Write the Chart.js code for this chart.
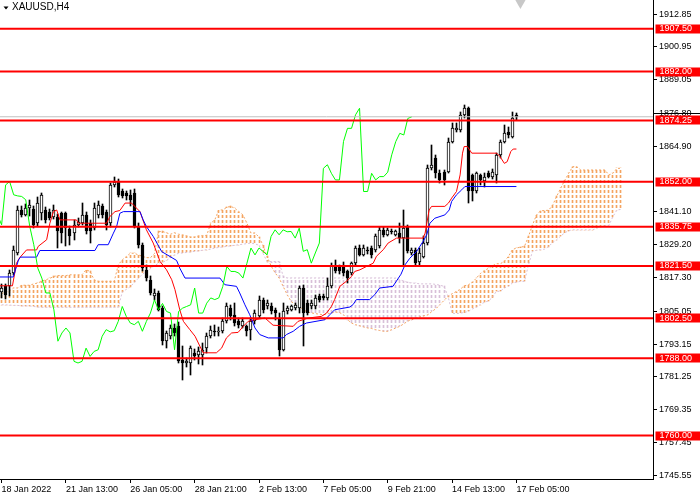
<!DOCTYPE html>
<html>
<head>
<meta charset="utf-8">
<title>XAUUSD,H4</title>
<script src="https://cdn.jsdelivr.net/npm/chart.js@4.4.1/dist/chart.umd.min.js"></script>
<style>
    html, body { margin: 0; padding: 0; background: #fff; }
    #wrap { width: 700px; height: 500px; }
</style>
</head>
<body>
<div id="wrap"><canvas id="chart" width="700" height="500"></canvas></div>
<script>
// H4 bars, bar 0 is the first one on screen
var opens = [
    1812.0, 1814.1, 1814.1, 1819.0, 1826.2, 1841.8, 1840.0, 1842.4, 1842.0, 1837.0,
    1840.6, 1841.8, 1841.2, 1839.4, 1839.4, 1840.6, 1840.6, 1834.8, 1833.4, 1836.4,
    1837.0, 1840.0, 1837.0, 1835.2, 1840.0, 1843.1, 1841.2, 1837.0, 1850.9, 1852.1,
    1848.5, 1847.9, 1847.3, 1847.9, 1835.8, 1829.2, 1820.1, 1816.5, 1810.7, 1811.7,
    1806.2, 1794.2, 1796.0, 1799.0, 1799.6, 1787.5, 1786.3, 1786.3, 1790.0, 1789.3,
    1789.3, 1791.7, 1796.0, 1798.0, 1797.6, 1797.8, 1801.4, 1806.2, 1803.8, 1801.4,
    1799.6, 1799.6, 1798.4, 1801.4, 1803.2, 1809.2, 1806.9, 1806.9, 1805.6, 1802.6,
    1791.1, 1805.0, 1805.6, 1806.2, 1806.2, 1813.5, 1808.0, 1806.8, 1806.8, 1810.5,
    1810.5, 1809.9, 1814.1, 1821.3, 1821.3, 1821.3, 1819.5, 1818.9, 1822.5, 1828.0,
    1825.5, 1827.4, 1828.0, 1827.4, 1828.6, 1834.6, 1832.8, 1834.2, 1832.8, 1833.4,
    1831.6, 1835.8, 1826.2, 1827.4, 1823.1, 1824.9, 1829.8, 1856.9, 1860.6, 1855.1,
    1855.7, 1855.7, 1866.6, 1870.8, 1870.8, 1876.3, 1878.7, 1854.5, 1848.5, 1854.5,
    1852.4, 1855.1, 1853.9, 1854.5, 1861.8, 1866.6, 1869.9, 1868.4, 1876.3
];
var highs = [
    1815.0, 1815.0, 1820.1, 1828.6, 1843.1, 1843.1, 1844.0, 1845.5, 1843.1, 1846.5,
    1847.9, 1843.0, 1842.0, 1843.5, 1840.5, 1841.0, 1841.0, 1836.0, 1838.2, 1839.0,
    1844.3, 1841.0, 1838.0, 1844.3, 1845.0, 1844.0, 1841.8, 1851.5, 1853.9, 1853.0,
    1849.5, 1848.5, 1849.1, 1849.5, 1837.0, 1830.0, 1822.0, 1818.0, 1813.0, 1812.5,
    1807.0, 1797.8, 1800.0, 1800.5, 1801.0, 1792.3, 1788.0, 1792.5, 1791.5, 1792.0,
    1793.6, 1797.0, 1799.6, 1800.0, 1799.5, 1802.5, 1808.0, 1807.5, 1808.0, 1802.5,
    1802.5, 1800.2, 1802.6, 1805.5, 1810.5, 1810.0, 1809.0, 1808.0, 1806.2, 1804.4,
    1808.0, 1807.0, 1807.5, 1808.0, 1814.1, 1814.5, 1809.2, 1809.0, 1811.0, 1811.5,
    1811.5, 1817.1, 1822.5, 1823.7, 1822.0, 1823.1, 1820.0, 1823.1, 1828.6, 1829.0,
    1829.0, 1828.5, 1828.6, 1833.0, 1835.8, 1835.5, 1835.2, 1835.0, 1834.5, 1837.0,
    1841.8, 1836.5, 1828.0, 1828.0, 1828.0, 1832.2, 1858.2, 1865.4, 1861.8, 1856.3,
    1856.3, 1867.8, 1873.2, 1873.2, 1877.5, 1879.9, 1879.3, 1855.0, 1855.7, 1855.0,
    1855.1, 1856.0, 1856.5, 1862.4, 1867.2, 1872.6, 1872.0, 1877.5, 1876.9
];
var lows = [
    1810.0, 1809.5, 1810.5, 1818.3, 1825.5, 1839.4, 1839.6, 1839.5, 1835.2, 1836.0,
    1838.2, 1837.0, 1838.0, 1838.5, 1828.0, 1829.8, 1828.6, 1829.2, 1831.0, 1835.5,
    1836.4, 1833.0, 1829.8, 1834.5, 1839.0, 1839.0, 1834.6, 1835.8, 1850.3, 1846.5,
    1846.0, 1845.5, 1843.1, 1835.2, 1828.0, 1819.5, 1816.0, 1811.0, 1809.0, 1805.0,
    1793.0, 1791.8, 1795.0, 1796.0, 1786.3, 1780.3, 1785.0, 1782.1, 1787.5, 1786.0,
    1785.7, 1790.0, 1795.4, 1796.0, 1796.0, 1797.0, 1800.8, 1802.0, 1799.6, 1799.0,
    1799.0, 1796.0, 1794.8, 1800.5, 1802.5, 1804.5, 1806.0, 1804.0, 1802.0, 1788.7,
    1790.5, 1804.0, 1805.0, 1805.6, 1804.4, 1792.4, 1803.8, 1806.0, 1806.0, 1808.5,
    1809.0, 1809.3, 1813.5, 1819.0, 1818.5, 1817.7, 1815.3, 1818.3, 1821.9, 1825.0,
    1825.0, 1826.0, 1824.5, 1826.5, 1828.0, 1832.0, 1832.2, 1833.0, 1832.4, 1829.8,
    1821.9, 1826.2, 1825.5, 1821.9, 1821.9, 1824.3, 1829.2, 1856.3, 1853.3, 1851.5,
    1850.9, 1855.1, 1866.0, 1870.2, 1870.2, 1875.0, 1844.3, 1844.9, 1847.9, 1850.9,
    1850.3, 1853.3, 1853.0, 1851.5, 1860.6, 1866.0, 1867.8, 1867.8, 1874.4
];
var closes = [
    1813.5, 1811.1, 1818.9, 1827.4, 1841.8, 1840.0, 1842.4, 1843.7, 1836.4, 1844.3,
    1847.3, 1838.2, 1838.8, 1841.8, 1834.0, 1833.4, 1835.2, 1832.2, 1836.4, 1837.6,
    1840.0, 1834.0, 1834.0, 1842.4, 1843.7, 1840.0, 1836.4, 1850.9, 1852.1, 1847.3,
    1846.9, 1846.7, 1845.5, 1835.8, 1829.2, 1820.7, 1817.1, 1811.7, 1811.7, 1805.6,
    1794.2, 1797.2, 1799.0, 1797.2, 1786.9, 1786.3, 1786.9, 1791.7, 1788.7, 1790.5,
    1791.1, 1796.0, 1798.4, 1797.6, 1798.0, 1801.4, 1806.8, 1803.2, 1800.8, 1800.2,
    1801.4, 1797.8, 1801.4, 1804.4, 1809.2, 1805.6, 1807.9, 1805.0, 1804.4, 1791.1,
    1805.0, 1806.2, 1806.8, 1807.4, 1813.5, 1804.4, 1804.4, 1808.0, 1809.9, 1809.3,
    1809.9, 1814.1, 1821.3, 1819.5, 1819.5, 1818.9, 1817.1, 1822.5, 1828.0, 1825.5,
    1828.0, 1826.8, 1825.5, 1832.2, 1834.6, 1832.8, 1834.6, 1833.9, 1834.0, 1831.6,
    1835.2, 1826.8, 1827.4, 1822.5, 1826.2, 1829.8, 1856.9, 1858.2, 1855.1, 1852.7,
    1852.7, 1866.6, 1871.4, 1871.4, 1876.3, 1878.7, 1848.5, 1848.5, 1855.1, 1852.7,
    1853.9, 1853.9, 1855.5, 1861.8, 1866.6, 1869.6, 1869.0, 1875.0, 1875.6
];

// Ichimoku lines: [bar, price]
var tenkan = [
    [-0.4, 1814.3], [2.7, 1814.3], [3.7, 1822.5], [4.5, 1824.5], [6.2, 1827.3], [8.7, 1827.3],
    [9.1, 1828.6], [11.2, 1831.0], [12.0, 1837.0], [12.9, 1841.2], [13.7, 1841.8], [14.5, 1838.2],
    [18.6, 1838.2], [19.1, 1837.0], [26.1, 1837.0], [26.9, 1839.4], [28.2, 1841.2], [29.4, 1841.6],
    [30.7, 1844.3], [32.3, 1844.3], [34.4, 1841.2], [36.0, 1834.6], [37.7, 1829.8], [39.4, 1823.1],
    [41.0, 1820.1], [42.3, 1816.5], [43.1, 1812.9], [44.3, 1805.6], [45.2, 1801.4], [46.8, 1798.4],
    [48.1, 1796.0], [49.3, 1792.4], [50.1, 1790.0], [53.4, 1790.0], [54.7, 1791.7], [55.9, 1795.4],
    [57.2, 1797.2], [58.8, 1797.4], [60.1, 1799.6], [61.3, 1801.4], [63.0, 1802.0], [65.5, 1802.6],
    [67.5, 1800.0], [72.5, 1799.6], [73.7, 1801.4], [76.2, 1802.6], [79.5, 1803.2], [80.8, 1804.4],
    [82.0, 1806.8], [82.8, 1809.3], [84.1, 1814.1], [85.7, 1815.9], [87.0, 1817.7], [87.8, 1819.5],
    [89.1, 1820.1], [90.7, 1821.3], [92.4, 1822.5], [93.2, 1825.0], [94.9, 1827.4], [96.1, 1829.8],
    [98.2, 1831.6], [104.8, 1831.6], [105.3, 1833.4], [106.3, 1841.8], [106.9, 1843.1], [110.2, 1843.1],
    [111.1, 1844.3], [111.9, 1846.1], [113.1, 1848.5], [114.0, 1854.5], [114.6, 1862.4], [115.0, 1864.8],
    [115.8, 1864.8], [116.9, 1862.4], [123.1, 1862.4], [123.9, 1861.2], [125.0, 1858.7], [125.7, 1859.3],
    [126.6, 1863.0], [127.2, 1863.9], [128.0, 1863.9]
];
var kijun = [
    [-0.4, 1817.5], [2.9, 1817.5], [4.2, 1823.7], [4.7, 1824.7], [8.7, 1824.7], [9.5, 1827.1],
    [23.2, 1827.1], [24.0, 1829.2], [26.5, 1829.2], [27.8, 1833.4], [28.6, 1835.8], [29.4, 1840.6],
    [30.3, 1841.2], [34.4, 1841.2], [35.2, 1838.2], [36.0, 1835.8], [37.7, 1832.2], [39.8, 1826.7],
    [43.5, 1823.5], [44.3, 1820.7], [45.6, 1817.1], [54.3, 1817.1], [55.5, 1814.7], [58.4, 1814.1],
    [59.2, 1811.7], [60.5, 1807.4], [61.7, 1803.8], [63.0, 1799.0], [64.2, 1796.6], [66.3, 1795.4],
    [70.0, 1795.4], [70.8, 1796.6], [72.5, 1797.8], [74.1, 1799.6], [75.8, 1800.8], [80.4, 1802.0],
    [81.6, 1803.8], [82.8, 1805.6], [86.6, 1806.6], [87.4, 1807.5], [88.2, 1809.3], [91.5, 1809.3],
    [92.8, 1811.1], [94.0, 1813.5], [97.3, 1814.1], [99.3, 1818.5], [100.3, 1821.9], [101.5, 1824.3],
    [103.2, 1826.8], [104.8, 1830.4], [105.7, 1832.8], [106.5, 1837.0], [107.7, 1838.8], [110.2, 1840.0],
    [111.3, 1841.8], [111.9, 1844.9], [113.1, 1847.3], [114.4, 1849.1], [115.2, 1850.3], [128.0, 1850.3]
];
// Senkou spans, one value per bar (runs 26 bars past the last candle)
var spanA = [
    1811.5, 1812.0, 1812.5, 1813.5, 1813.5, 1814.5, 1814.5, 1814.5, 1815.0, 1815.3,
    1816.0, 1816.5, 1817.0, 1817.7, 1818.0, 1818.0, 1818.0, 1818.3, 1818.3, 1818.3,
    1818.3, 1820.1, 1819.5, 1816.5, 1815.9, 1815.9, 1815.9, 1815.9, 1815.9, 1821.9,
    1823.7, 1824.9, 1826.1, 1826.1, 1825.5, 1825.0, 1824.5, 1824.5, 1826.0, 1834.0,
    1834.0, 1833.5, 1833.0, 1833.5, 1833.0, 1832.8, 1832.4, 1832.0, 1832.0, 1832.4,
    1832.5, 1832.6, 1837.0, 1838.2, 1841.8, 1841.8, 1842.8, 1843.1, 1842.4, 1841.2,
    1840.0, 1837.0, 1833.4, 1833.4, 1832.0, 1829.0, 1825.0, 1821.5, 1819.0, 1817.1,
    1814.1, 1811.1, 1808.6, 1807.5, 1806.8, 1805.6, 1804.8, 1804.5, 1804.2, 1804.0,
    1803.8, 1804.1, 1804.4, 1804.8, 1804.6, 1803.8, 1802.0, 1800.8, 1800.2, 1799.8,
    1799.4, 1799.0, 1798.8, 1798.4, 1798.1, 1797.8, 1797.8, 1798.4, 1799.0, 1799.6,
    1800.5, 1801.5, 1802.0, 1802.5, 1803.0, 1803.4, 1803.8, 1805.0, 1806.0, 1807.5,
    1809.0, 1810.5, 1811.4, 1812.2, 1813.0, 1814.3, 1814.6, 1815.5, 1817.0, 1818.7,
    1819.8, 1820.6, 1821.5, 1822.3, 1822.3, 1823.2, 1824.9, 1827.4, 1828.0, 1828.3,
    1828.6, 1832.2, 1836.4, 1840.0, 1841.5, 1841.6, 1841.7, 1843.5, 1846.7, 1849.7,
    1852.5, 1855.1, 1857.5, 1857.5, 1856.3, 1856.3, 1856.3, 1856.3, 1856.3, 1856.3,
    1856.3, 1854.5, 1855.1, 1856.9, 1856.9
];
var spanB = [
    1807.4, 1807.4, 1807.3, 1807.2, 1807.2, 1807.0, 1807.0, 1807.0, 1806.8, 1806.6,
    1806.5, 1806.5, 1806.5, 1806.5, 1806.5, 1806.5, 1806.5, 1806.5, 1806.5, 1806.5,
    1806.5, 1806.5, 1806.5, 1806.5, 1806.5, 1806.5, 1806.5, 1806.5, 1806.5, 1806.5,
    1812.0, 1813.0, 1814.0, 1815.5, 1817.0, 1818.5, 1819.5, 1820.5, 1821.5, 1822.5,
    1822.8, 1823.5, 1824.5, 1825.5, 1826.1, 1826.2, 1826.4, 1826.6, 1826.8, 1827.0,
    1827.2, 1827.4, 1827.6, 1828.0, 1828.2, 1828.4, 1828.6, 1828.8, 1829.0, 1829.2,
    1829.4, 1829.6, 1829.8, 1829.5, 1829.0, 1826.0, 1823.1, 1823.1, 1823.1, 1823.1,
    1817.7, 1817.1, 1817.1, 1817.1, 1817.1, 1817.1, 1817.1, 1817.1, 1817.1, 1817.1,
    1817.1, 1817.1, 1817.1, 1817.1, 1817.1, 1817.1, 1817.1, 1817.1, 1817.1, 1817.1,
    1817.1, 1817.1, 1817.1, 1817.1, 1817.1, 1817.1, 1817.1, 1817.1, 1817.0, 1816.5,
    1816.0, 1815.5, 1815.3, 1815.2, 1815.0, 1815.0, 1815.0, 1815.0, 1814.8, 1814.5,
    1814.1, 1810.5, 1804.4, 1804.2, 1804.4, 1804.6, 1805.0, 1805.9, 1806.5, 1807.5,
    1808.3, 1808.8, 1810.0, 1812.3, 1812.3, 1813.5, 1814.1, 1815.3, 1815.6, 1815.9,
    1815.9, 1821.9, 1826.8, 1827.2, 1827.4, 1827.6, 1828.5, 1830.0, 1831.0, 1832.3,
    1833.5, 1834.3, 1834.6, 1834.6, 1834.6, 1834.6, 1834.6, 1834.6, 1835.2, 1835.8,
    1836.0, 1836.2, 1839.4, 1841.8, 1842.0
];
var chikouShift = 26;

var levelLines = [1907.50, 1892.00, 1874.25, 1852.00, 1835.75, 1821.50, 1802.50, 1788.00, 1760.00];
var bidPrice = 1875.6;
var shiftMark = { bar: 129, price: 1916.9 };

var yTicks = [1912.85, 1900.95, 1889.05, 1876.80, 1864.90, 1841.10, 1829.20, 1817.30,
    1805.05, 1793.15, 1781.25, 1769.35, 1757.45, 1745.55];
var xTickBars = [0, 16, 32, 48, 64, 80, 96, 112, 128];
var xTickLabels = ['18 Jan 2022', '21 Jan 13:00', '26 Jan 05:00', '28 Jan 21:00', '2 Feb 13:00',
    '7 Feb 05:00', '9 Feb 21:00', '14 Feb 13:00', '17 Feb 05:00'];

function hatch(color) {
    var c = document.createElement('canvas');
    c.width = 1;
    c.height = 5;
    var g = c.getContext('2d');
    g.fillStyle = color;
    g.fillRect(0, 0, 1, 3);
    return g.createPattern(c, 'repeat');
}

function pairs(list) {
    return list.map(function (p) { return { x: p[0], y: p[1] }; });
}

var upKumo = hatch('#f4a460');
var downKumo = hatch('#d8bfd8');

var chikou = [];
for (var i = chikouShift - 1; i < closes.length; i++) {
    chikou.push({ x: i - chikouShift, y: closes[i] });
}

var datasets = [];

levelLines.forEach(function (v) {
    datasets.push({
        type: 'line', data: [{ x: -0.4, y: v }, { x: 161.96, y: v }],
        borderColor: '#ff0000', borderWidth: 2, pointRadius: 0, order: 1
    });
});

datasets.push({
    type: 'line', data: [{ x: -0.4, y: bidPrice }, { x: 161.96, y: bidPrice }],
    borderColor: '#c0c0c0', borderWidth: 1, pointRadius: 0, order: 2
});
datasets.push({
    type: 'line', data: chikou, borderColor: '#00ff00', borderWidth: 1,
    pointRadius: 0, tension: 0, order: 3
});
datasets.push({
    type: 'line', data: pairs(kijun), borderColor: '#0000ff', borderWidth: 1,
    pointRadius: 0, tension: 0, order: 4
});
datasets.push({
    type: 'line', data: pairs(tenkan), borderColor: '#ff0000', borderWidth: 1,
    pointRadius: 0, tension: 0, order: 5
});
// candle bodies and wicks
datasets.push({
    type: 'bar', grouped: false, barThickness: 3, order: 6,
    data: opens.map(function (o, i) { return { x: i, y: [o, closes[i]] }; }),
    backgroundColor: function (ctx) {
        var i = ctx.dataIndex;
        return closes[i] >= opens[i] ? '#ffffff' : '#000000';
    },
    borderColor: '#000000', borderWidth: 1, borderSkipped: false
});
datasets.push({
    type: 'bar', grouped: false, barThickness: 1, order: 7,
    data: highs.map(function (h, i) { return { x: i, y: [lows[i], h] }; }),
    backgroundColor: '#000000', borderWidth: 0
});
// cloud
datasets.push({
    type: 'line', data: spanB.map(function (v, i) { return { x: i, y: v }; }),
    borderColor: '#d8bfd8', borderWidth: 1, borderDash: [2, 2], pointRadius: 0, order: 8
});
datasets.push({
    type: 'line', data: spanA.map(function (v, i) { return { x: i, y: v }; }),
    borderColor: '#f4a460', borderWidth: 1, borderDash: [2, 2], pointRadius: 0, order: 9
});
datasets.push({
    type: 'bar', grouped: false, barThickness: 1, order: 10,
    data: spanA.map(function (a, i) { return { x: i, y: [a, spanB[i]] }; }),
    backgroundColor: function (ctx) {
        var i = ctx.dataIndex;
        return spanA[i] >= spanB[i] ? upKumo : downKumo;
    },
    borderWidth: 0
});
datasets.push({
    type: 'line', showLine: false, order: 0,
    data: [{ x: shiftMark.bar, y: shiftMark.price }],
    pointStyle: 'triangle', pointRotation: 180, pointRadius: 6,
    pointBackgroundColor: '#c8c8c8', pointBorderWidth: 0
});

// snap bar elements to whole pixels so 1px and 3px bars stay crisp
var snapBars = {
    id: 'snapBars',
    beforeDatasetDraw: function (chart, args) {
        var meta = args.meta;
        if (meta.type !== 'bar') return;
        meta.data.forEach(function (el) {
            el.x = Math.floor(el.x) + 0.5;
            var top = Math.round(Math.min(el.y, el.base));
            var bottom = Math.round(Math.max(el.y, el.base));
            if (bottom - top < 1) bottom = top + 1;
            el.y = top;
            el.base = bottom;
        });
    }
};

var overlay = {
    id: 'overlay',
    afterDraw: function (chart) {
        var ctx = chart.ctx;
        var ys = chart.scales.y;
        var area = chart.chartArea;
        var w = chart.width;
        ctx.save();

        // edge of the bid label, mostly hidden behind the 1874.25 box
        var by = Math.round(ys.getPixelForValue(bidPrice)) - 3.5;
        ctx.strokeStyle = '#000';
        ctx.lineWidth = 1;
        ctx.beginPath();
        ctx.moveTo(area.right, by);
        ctx.lineTo(w, by);
        ctx.stroke();

        ctx.font = '9px "Liberation Sans"';
        ctx.textBaseline = 'middle';
        ctx.textAlign = 'left';
        levelLines.forEach(function (v) {
            var py = ys.getPixelForValue(v);
            ctx.fillStyle = '#ff0000';
            ctx.fillRect(area.right + 2.5, Math.round(py) - 4.5, w - area.right - 2.5, 9);
            ctx.fillStyle = '#ffffff';
            ctx.fillText(v.toFixed(2), area.right + 6.5, py);
        });

        ctx.fillStyle = '#000';
        ctx.font = '10px "Liberation Sans"';
        ctx.fillText('XAUUSD,H4', 12, 7.5);
        ctx.beginPath();
        ctx.moveTo(3.5, 6.5);
        ctx.lineTo(8.5, 6.5);
        ctx.lineTo(6, 9.5);
        ctx.closePath();
        ctx.fill();
        ctx.restore();
    }
};

Chart.defaults.font.family = '"Liberation Sans", Arial, sans-serif';
Chart.defaults.font.size = 9;
Chart.defaults.color = '#000';

var chart = new Chart(document.getElementById('chart'), {
    type: 'bar',
    data: { datasets: datasets },
    options: {
        responsive: false,
        animation: false,
        events: [],
        layout: { padding: 0, autoPadding: false },
        plugins: {
            legend: { display: false },
            tooltip: { enabled: false }
        },
        scales: {
            x: {
                type: 'linear',
                position: 'bottom',
                min: -0.4,
                max: 161.96,
                offset: false,
                grid: { display: true, offset: false, drawOnChartArea: false, drawTicks: true, tickLength: 4, color: '#000' },
                border: { display: true, color: '#000', width: 1 },
                ticks: {
                    autoSkip: false,
                    maxRotation: 0,
                    minRotation: 0,
                    align: 'start',
                    padding: 1,
                    color: '#000',
                    callback: function (value, index) { return xTickLabels[index]; }
                },
                afterBuildTicks: function (axis) {
                    axis.ticks = xTickBars.map(function (b) { return { value: b }; });
                },
                afterFit: function (axis) {
                    axis.height = 21;
                    axis.paddingLeft = 0;
                    axis.paddingRight = 0;
                }
            },
            y: {
                type: 'linear',
                position: 'right',
                min: 1744.23,
                max: 1917.95,
                beginAtZero: false,
                grid: { display: true, drawOnChartArea: false, drawTicks: true, tickLength: 4, color: '#000' },
                border: { display: true, color: '#000', width: 1 },
                ticks: {
                    autoSkip: false,
                    padding: 2,
                    color: '#000',
                    callback: function (value) { return value.toFixed(2); }
                },
                afterBuildTicks: function (axis) {
                    axis.ticks = yTicks.map(function (v) { return { value: v }; });
                },
                afterFit: function (axis) {
                    axis.width = 47;
                    axis.paddingTop = 0;
                    axis.paddingBottom = 0;
                }
            }
        }
    },
    plugins: [snapBars, overlay]
});
</script>
</body>
</html>
